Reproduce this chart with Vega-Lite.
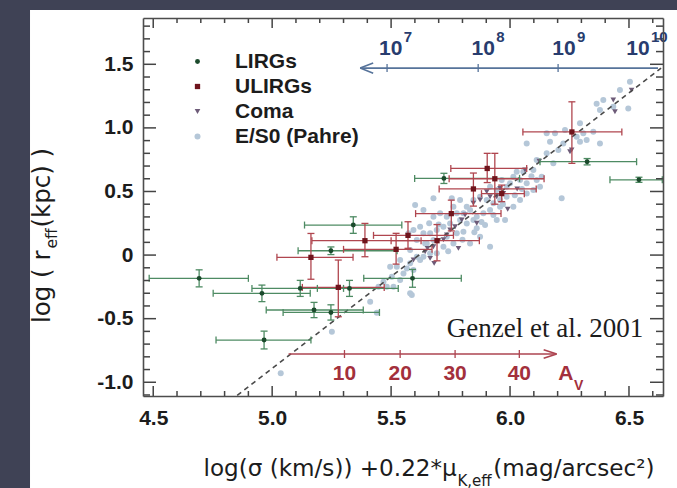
{
"$schema":"https://vega.github.io/schema/vega-lite/v6.json",
"width":520,"height":378,
"autosize":{"type":"none"},
"padding":{"left":143,"top":18,"right":14,"bottom":92},
"background":"#3f4255",
"config":{"view":{"stroke":null},"axis":{"grid":false}},
"datasets":{
"bars":[
{"g":"LIRGs","x":4.693,"y":-0.183,"xlo":4.483,"xhi":4.900,"ylo":-0.25,"yhi":-0.116},
{"g":"LIRGs","x":4.957,"y":-0.301,"xlo":4.752,"xhi":5.160,"ylo":-0.366,"yhi":-0.236},
{"g":"LIRGs","x":5.118,"y":-0.262,"xlo":4.915,"xhi":5.300,"ylo":-0.325,"yhi":-0.199},
{"g":"LIRGs","x":5.325,"y":-0.262,"xlo":5.190,"xhi":5.530,"ylo":-0.325,"yhi":-0.199},
{"g":"LIRGs","x":5.247,"y":0.034,"xlo":5.109,"xhi":5.525,"ylo":0.004,"yhi":0.064},
{"g":"LIRGs","x":5.176,"y":-0.432,"xlo":4.975,"xhi":5.383,"ylo":-0.492,"yhi":-0.372},
{"g":"LIRGs","x":5.247,"y":-0.451,"xlo":5.046,"xhi":5.451,"ylo":-0.511,"yhi":-0.391},
{"g":"LIRGs","x":4.966,"y":-0.668,"xlo":4.764,"xhi":5.163,"ylo":-0.738,"yhi":-0.598},
{"g":"LIRGs","x":5.722,"y":0.603,"xlo":5.599,"xhi":6.040,"ylo":0.563,"yhi":0.643},
{"g":"LIRGs","x":5.590,"y":-0.183,"xlo":5.385,"xhi":5.795,"ylo":-0.253,"yhi":-0.113},
{"g":"LIRGs","x":6.324,"y":0.734,"xlo":6.126,"xhi":6.532,"ylo":0.709,"yhi":0.759},
{"g":"LIRGs","x":6.542,"y":0.592,"xlo":6.420,"xhi":6.640,"ylo":0.572,"yhi":0.612},
{"g":"LIRGs","x":5.341,"y":0.236,"xlo":5.136,"xhi":5.545,"ylo":0.171,"yhi":0.301},
{"g":"ULIRGs","x":5.163,"y":-0.018,"xlo":5.020,"xhi":5.340,"ylo":-0.190,"yhi":0.170},
{"g":"ULIRGs","x":5.278,"y":-0.254,"xlo":5.127,"xhi":5.471,"ylo":-0.485,"yhi":-0.039},
{"g":"ULIRGs","x":5.390,"y":0.113,"xlo":5.167,"xhi":5.626,"ylo":-0.013,"yhi":0.249},
{"g":"ULIRGs","x":5.521,"y":0.045,"xlo":5.300,"xhi":5.672,"ylo":-0.071,"yhi":0.171},
{"g":"ULIRGs","x":5.571,"y":0.155,"xlo":5.426,"xhi":5.762,"ylo":0.053,"yhi":0.262},
{"g":"ULIRGs","x":5.693,"y":0.113,"xlo":5.500,"xhi":5.871,"ylo":-0.045,"yhi":0.240},
{"g":"ULIRGs","x":5.753,"y":0.326,"xlo":5.603,"xhi":5.962,"ylo":0.190,"yhi":0.432},
{"g":"ULIRGs","x":5.846,"y":0.520,"xlo":5.702,"xhi":6.110,"ylo":0.385,"yhi":0.645},
{"g":"ULIRGs","x":5.904,"y":0.681,"xlo":5.751,"xhi":6.070,"ylo":0.570,"yhi":0.800},
{"g":"ULIRGs","x":5.936,"y":0.600,"xlo":5.744,"xhi":6.143,"ylo":0.400,"yhi":0.800},
{"g":"ULIRGs","x":5.965,"y":0.483,"xlo":5.880,"xhi":6.060,"ylo":0.420,"yhi":0.550},
{"g":"ULIRGs","x":6.260,"y":0.968,"xlo":6.054,"xhi":6.470,"ylo":0.721,"yhi":1.205}
],
"pts":[
{"g":"E/S0 (Pahre)","x":5.036,"y":-0.93},{"g":"E/S0 (Pahre)","x":5.251,"y":-0.603},{"g":"E/S0 (Pahre)","x":5.44,"y":-0.453},{"g":"E/S0 (Pahre)","x":5.412,"y":-0.367},
{"g":"E/S0 (Pahre)","x":5.447,"y":-0.249},{"g":"E/S0 (Pahre)","x":5.468,"y":-0.21},{"g":"E/S0 (Pahre)","x":5.503,"y":-0.17},{"g":"E/S0 (Pahre)","x":5.524,"y":-0.092},
{"g":"E/S0 (Pahre)","x":5.566,"y":-0.105},{"g":"E/S0 (Pahre)","x":5.538,"y":-0.039},{"g":"E/S0 (Pahre)","x":5.622,"y":-0.039},{"g":"E/S0 (Pahre)","x":5.58,"y":0.039},
{"g":"E/S0 (Pahre)","x":5.643,"y":0.092},{"g":"E/S0 (Pahre)","x":5.587,"y":-0.314},{"g":"E/S0 (Pahre)","x":5.601,"y":0.393},{"g":"E/S0 (Pahre)","x":5.636,"y":0.354},
{"g":"E/S0 (Pahre)","x":6.294,"y":1.036},{"g":"E/S0 (Pahre)","x":6.378,"y":1.14},{"g":"E/S0 (Pahre)","x":6.434,"y":1.167},{"g":"E/S0 (Pahre)","x":6.497,"y":1.153},
{"g":"E/S0 (Pahre)","x":6.35,"y":0.97},{"g":"E/S0 (Pahre)","x":6.308,"y":0.957},{"g":"E/S0 (Pahre)","x":6.28,"y":0.931},{"g":"E/S0 (Pahre)","x":6.231,"y":0.983},
{"g":"E/S0 (Pahre)","x":6.189,"y":0.957},{"g":"E/S0 (Pahre)","x":6.154,"y":0.957},{"g":"E/S0 (Pahre)","x":6.168,"y":0.891},{"g":"E/S0 (Pahre)","x":6.224,"y":0.878},
{"g":"E/S0 (Pahre)","x":6.294,"y":0.891},{"g":"E/S0 (Pahre)","x":6.322,"y":0.905},{"g":"E/S0 (Pahre)","x":6.378,"y":0.878},{"g":"E/S0 (Pahre)","x":6.203,"y":0.826},
{"g":"E/S0 (Pahre)","x":6.154,"y":0.8},{"g":"E/S0 (Pahre)","x":6.07,"y":0.878},{"g":"E/S0 (Pahre)","x":6.112,"y":0.747},{"g":"E/S0 (Pahre)","x":6.182,"y":0.721},
{"g":"E/S0 (Pahre)","x":6.098,"y":0.669},{"g":"E/S0 (Pahre)","x":6.056,"y":0.656},{"g":"E/S0 (Pahre)","x":6.028,"y":0.656},{"g":"E/S0 (Pahre)","x":6.014,"y":0.616},
{"g":"E/S0 (Pahre)","x":6.0,"y":0.564},{"g":"E/S0 (Pahre)","x":6.042,"y":0.59},{"g":"E/S0 (Pahre)","x":6.07,"y":0.564},{"g":"E/S0 (Pahre)","x":6.112,"y":0.59},
{"g":"E/S0 (Pahre)","x":6.133,"y":0.616},{"g":"E/S0 (Pahre)","x":5.965,"y":0.59},{"g":"E/S0 (Pahre)","x":5.986,"y":0.538},{"g":"E/S0 (Pahre)","x":5.944,"y":0.511},
{"g":"E/S0 (Pahre)","x":5.916,"y":0.538},{"g":"E/S0 (Pahre)","x":5.874,"y":0.459},{"g":"E/S0 (Pahre)","x":5.902,"y":0.433},{"g":"E/S0 (Pahre)","x":5.93,"y":0.407},
{"g":"E/S0 (Pahre)","x":5.958,"y":0.433},{"g":"E/S0 (Pahre)","x":5.846,"y":0.433},{"g":"E/S0 (Pahre)","x":5.818,"y":0.38},{"g":"E/S0 (Pahre)","x":5.79,"y":0.433},
{"g":"E/S0 (Pahre)","x":5.762,"y":0.38},{"g":"E/S0 (Pahre)","x":5.755,"y":0.446},{"g":"E/S0 (Pahre)","x":5.776,"y":0.328},{"g":"E/S0 (Pahre)","x":5.804,"y":0.328},
{"g":"E/S0 (Pahre)","x":5.832,"y":0.354},{"g":"E/S0 (Pahre)","x":5.86,"y":0.302},{"g":"E/S0 (Pahre)","x":5.888,"y":0.328},{"g":"E/S0 (Pahre)","x":5.916,"y":0.354},
{"g":"E/S0 (Pahre)","x":5.846,"y":0.276},{"g":"E/S0 (Pahre)","x":5.818,"y":0.249},{"g":"E/S0 (Pahre)","x":5.79,"y":0.276},{"g":"E/S0 (Pahre)","x":5.748,"y":0.249},
{"g":"E/S0 (Pahre)","x":5.734,"y":0.302},{"g":"E/S0 (Pahre)","x":5.706,"y":0.328},{"g":"E/S0 (Pahre)","x":5.678,"y":0.302},{"g":"E/S0 (Pahre)","x":5.72,"y":0.223},
{"g":"E/S0 (Pahre)","x":5.692,"y":0.197},{"g":"E/S0 (Pahre)","x":5.664,"y":0.171},{"g":"E/S0 (Pahre)","x":5.636,"y":0.171},{"g":"E/S0 (Pahre)","x":5.608,"y":0.118},
{"g":"E/S0 (Pahre)","x":5.65,"y":0.092},{"g":"E/S0 (Pahre)","x":5.678,"y":0.118},{"g":"E/S0 (Pahre)","x":5.734,"y":0.145},{"g":"E/S0 (Pahre)","x":5.776,"y":0.171},
{"g":"E/S0 (Pahre)","x":5.804,"y":0.184},{"g":"E/S0 (Pahre)","x":5.762,"y":0.092},{"g":"E/S0 (Pahre)","x":5.72,"y":0.066},{"g":"E/S0 (Pahre)","x":5.692,"y":0.014},
{"g":"E/S0 (Pahre)","x":5.664,"y":0.014},{"g":"E/S0 (Pahre)","x":5.636,"y":-0.013},{"g":"E/S0 (Pahre)","x":5.608,"y":-0.013},{"g":"E/S0 (Pahre)","x":5.58,"y":-0.065},
{"g":"E/S0 (Pahre)","x":5.594,"y":-0.118},{"g":"E/S0 (Pahre)","x":5.552,"y":-0.144},{"g":"E/S0 (Pahre)","x":5.538,"y":-0.196},{"g":"E/S0 (Pahre)","x":5.51,"y":-0.249},
{"g":"E/S0 (Pahre)","x":5.482,"y":-0.249},{"g":"E/S0 (Pahre)","x":5.496,"y":-0.091},{"g":"E/S0 (Pahre)","x":5.622,"y":0.223},{"g":"E/S0 (Pahre)","x":5.594,"y":0.197},
{"g":"E/S0 (Pahre)","x":5.573,"y":0.171},{"g":"E/S0 (Pahre)","x":5.678,"y":0.446},{"g":"E/S0 (Pahre)","x":5.916,"y":0.066},{"g":"E/S0 (Pahre)","x":5.832,"y":0.092},
{"g":"E/S0 (Pahre)","x":5.874,"y":0.145},{"g":"E/S0 (Pahre)","x":5.944,"y":0.276},{"g":"E/S0 (Pahre)","x":5.979,"y":0.276},{"g":"E/S0 (Pahre)","x":6.014,"y":0.38},
{"g":"E/S0 (Pahre)","x":6.042,"y":0.433},{"g":"E/S0 (Pahre)","x":6.07,"y":0.485},{"g":"E/S0 (Pahre)","x":6.098,"y":0.511},{"g":"E/S0 (Pahre)","x":6.126,"y":0.538},
{"g":"E/S0 (Pahre)","x":5.986,"y":0.459},{"g":"E/S0 (Pahre)","x":5.958,"y":0.38},{"g":"E/S0 (Pahre)","x":5.93,"y":0.315},{"g":"E/S0 (Pahre)","x":5.895,"y":0.236},
{"g":"E/S0 (Pahre)","x":5.86,"y":0.21},{"g":"E/S0 (Pahre)","x":6.217,"y":0.446},{"g":"E/S0 (Pahre)","x":6.504,"y":1.362},{"g":"E/S0 (Pahre)","x":6.462,"y":1.297},
{"g":"E/S0 (Pahre)","x":6.364,"y":1.19},{"g":"E/S0 (Pahre)","x":6.392,"y":1.219},{"g":"E/S0 (Pahre)","x":5.74,"y":0.03},{"g":"E/S0 (Pahre)","x":5.8,"y":0.12},
{"g":"E/S0 (Pahre)","x":5.85,"y":0.18},{"g":"E/S0 (Pahre)","x":5.88,"y":0.26},{"g":"E/S0 (Pahre)","x":5.97,"y":0.4},{"g":"E/S0 (Pahre)","x":6.02,"y":0.47},
{"g":"E/S0 (Pahre)","x":6.05,"y":0.52},{"g":"E/S0 (Pahre)","x":6.09,"y":0.62},{"g":"E/S0 (Pahre)","x":5.7,"y":0.24},{"g":"E/S0 (Pahre)","x":5.66,"y":0.25},
{"g":"E/S0 (Pahre)","x":5.58,"y":-0.301},
{"g":"Coma","x":6.063,"y":0.669},{"g":"Coma","x":6.123,"y":0.739},{"g":"Coma","x":6.441,"y":1.127},{"g":"Coma","x":6.259,"y":0.826},
{"g":"Coma","x":5.902,"y":0.498},{"g":"Coma","x":5.916,"y":0.459},{"g":"Coma","x":5.944,"y":0.459},{"g":"Coma","x":5.972,"y":0.485},
{"g":"Coma","x":5.958,"y":0.524},{"g":"Coma","x":5.797,"y":0.276},{"g":"Coma","x":5.769,"y":0.223},{"g":"Coma","x":5.748,"y":0.197},
{"g":"Coma","x":5.734,"y":0.158},{"g":"Coma","x":5.678,"y":0.066},{"g":"Coma","x":5.664,"y":-0.026},{"g":"Coma","x":5.643,"y":0.026},
{"g":"Coma","x":5.846,"y":0.407},{"g":"Coma","x":5.874,"y":0.433},{"g":"Coma","x":5.811,"y":0.315},{"g":"Coma","x":5.594,"y":-0.039},
{"g":"Coma","x":6.511,"y":1.297},{"g":"Coma","x":6.434,"y":1.219},{"g":"Coma","x":6.252,"y":0.812},{"g":"Coma","x":5.783,"y":0.053},
{"g":"Coma","x":5.653,"y":0.053},{"g":"Coma","x":5.681,"y":-0.065},{"g":"Coma","x":5.99,"y":0.36},{"g":"Coma","x":5.86,"y":0.25},
{"g":"Coma","x":5.72,"y":0.12},{"g":"Coma","x":6.03,"y":0.52}
],
"fit":[{"x":4.853,"y":-1.104},{"x":6.635,"y":1.47}],
"arrows":[{"name":"mass","x1":5.37,"x2":6.622,"y":1.47},{"name":"av","x1":5.069,"x2":6.196,"y":-0.778}],
"scales":[
{"s":"mass","x":5.483,"y":1.47},{"s":"mass","x":5.866,"y":1.47},{"s":"mass","x":6.202,"y":1.47},
{"s":"av","x":5.304,"y":-0.778,"lab":"10"},{"s":"av","x":5.538,"y":-0.778,"lab":"20"},{"s":"av","x":5.769,"y":-0.778,"lab":"30"},{"s":"av","x":6.039,"y":-0.778,"lab":"40"}
],
"mass":[{"lx":5.498,"e":"7"},{"lx":5.887,"e":"8"},{"lx":6.227,"e":"9"},{"lx":6.538,"e":"10"}],
"notes":[{"t":"Genzel et al. 2001","x":5.734,"y":-0.645},{"t":"A","x":6.235,"y":-0.983},{"t":"V","x":6.288,"y":-1.061}],
"fx":[
{"v":4.5,"e":-1.108,"m":1},{"v":5.0,"e":-1.108,"m":1},{"v":5.5,"e":-1.108,"m":1},{"v":6.0,"e":-1.108,"m":1},{"v":6.5,"e":-1.108,"m":1},
{"v":4.6,"e":-1.108,"m":0},{"v":4.7,"e":-1.108,"m":0},{"v":4.8,"e":-1.108,"m":0},{"v":4.9,"e":-1.108,"m":0},{"v":5.1,"e":-1.108,"m":0},{"v":5.2,"e":-1.108,"m":0},
{"v":5.3,"e":-1.108,"m":0},{"v":5.4,"e":-1.108,"m":0},{"v":5.6,"e":-1.108,"m":0},{"v":5.7,"e":-1.108,"m":0},{"v":5.8,"e":-1.108,"m":0},{"v":5.9,"e":-1.108,"m":0},
{"v":6.1,"e":-1.108,"m":0},{"v":6.2,"e":-1.108,"m":0},{"v":6.3,"e":-1.108,"m":0},{"v":6.4,"e":-1.108,"m":0},{"v":6.6,"e":-1.108,"m":0},
{"v":4.5,"e":1.864,"m":1},{"v":5.0,"e":1.864,"m":1},{"v":5.5,"e":1.864,"m":1},{"v":6.0,"e":1.864,"m":1},{"v":6.5,"e":1.864,"m":1},
{"v":4.6,"e":1.864,"m":0},{"v":4.7,"e":1.864,"m":0},{"v":4.8,"e":1.864,"m":0},{"v":4.9,"e":1.864,"m":0},{"v":5.1,"e":1.864,"m":0},{"v":5.2,"e":1.864,"m":0},
{"v":5.3,"e":1.864,"m":0},{"v":5.4,"e":1.864,"m":0},{"v":5.6,"e":1.864,"m":0},{"v":5.7,"e":1.864,"m":0},{"v":5.8,"e":1.864,"m":0},{"v":5.9,"e":1.864,"m":0},
{"v":6.1,"e":1.864,"m":0},{"v":6.2,"e":1.864,"m":0},{"v":6.3,"e":1.864,"m":0},{"v":6.4,"e":1.864,"m":0},{"v":6.6,"e":1.864,"m":0}
],
"fy":[
{"v":-1.0,"e":4.457,"m":1},{"v":-0.5,"e":4.457,"m":1},{"v":0,"e":4.457,"m":1},{"v":0.5,"e":4.457,"m":1},{"v":1.0,"e":4.457,"m":1},{"v":1.5,"e":4.457,"m":1},
{"v":-1.1,"e":4.457,"m":0},{"v":-0.9,"e":4.457,"m":0},{"v":-0.8,"e":4.457,"m":0},{"v":-0.7,"e":4.457,"m":0},{"v":-0.6,"e":4.457,"m":0},{"v":-0.4,"e":4.457,"m":0},
{"v":-0.3,"e":4.457,"m":0},{"v":-0.2,"e":4.457,"m":0},{"v":-0.1,"e":4.457,"m":0},{"v":0.1,"e":4.457,"m":0},{"v":0.2,"e":4.457,"m":0},{"v":0.3,"e":4.457,"m":0},
{"v":0.4,"e":4.457,"m":0},{"v":0.6,"e":4.457,"m":0},{"v":0.7,"e":4.457,"m":0},{"v":0.8,"e":4.457,"m":0},{"v":0.9,"e":4.457,"m":0},{"v":1.1,"e":4.457,"m":0},
{"v":1.2,"e":4.457,"m":0},{"v":1.3,"e":4.457,"m":0},{"v":1.4,"e":4.457,"m":0},{"v":1.6,"e":4.457,"m":0},{"v":1.7,"e":4.457,"m":0},{"v":1.8,"e":4.457,"m":0},
{"v":-1.0,"e":6.643,"m":1},{"v":-0.5,"e":6.643,"m":1},{"v":0,"e":6.643,"m":1},{"v":0.5,"e":6.643,"m":1},{"v":1.0,"e":6.643,"m":1},{"v":1.5,"e":6.643,"m":1},
{"v":-1.1,"e":6.643,"m":0},{"v":-0.9,"e":6.643,"m":0},{"v":-0.8,"e":6.643,"m":0},{"v":-0.7,"e":6.643,"m":0},{"v":-0.6,"e":6.643,"m":0},{"v":-0.4,"e":6.643,"m":0},
{"v":-0.3,"e":6.643,"m":0},{"v":-0.2,"e":6.643,"m":0},{"v":-0.1,"e":6.643,"m":0},{"v":0.1,"e":6.643,"m":0},{"v":0.2,"e":6.643,"m":0},{"v":0.3,"e":6.643,"m":0},
{"v":0.4,"e":6.643,"m":0},{"v":0.6,"e":6.643,"m":0},{"v":0.7,"e":6.643,"m":0},{"v":0.8,"e":6.643,"m":0},{"v":0.9,"e":6.643,"m":0},{"v":1.1,"e":6.643,"m":0},
{"v":1.2,"e":6.643,"m":0},{"v":1.3,"e":6.643,"m":0},{"v":1.4,"e":6.643,"m":0},{"v":1.6,"e":6.643,"m":0},{"v":1.7,"e":6.643,"m":0},{"v":1.8,"e":6.643,"m":0}
]
},
"resolve":{"axis":{"x":"independent","y":"independent"}},
"layer":[
{"data":{"values":[{}]},"mark":{"type":"rect","color":"#ffffff","clip":false},
 "encoding":{
  "x":{"datum":3.982,"type":"quantitative","scale":{"domain":[4.457,6.643],"nice":false,"zero":false},
   "axis":{"orient":"bottom","values":[4.5,5,5.5,6,6.5],"format":".1f","ticks":false,"domain":true,"domainColor":"#4d4d4d","domainWidth":1.6,"labelFont":"Liberation Sans","labelFontWeight":"bold","labelFontSize":21,"labelColor":"#1c1c1c","labelPadding":11,"labelFlush":false,"labelOverlap":false,"labelBound":false,"zindex":1,
   "title":"log(σ (km/s)) +0.22*μ","titleFont":"DejaVu Sans","titleFontWeight":"normal","titleFontSize":23.1,"titleColor":"#1c1c1c","titleX":60,"titleY":79,"titleAlign":"left","titleBaseline":"alphabetic","titleAngle":0}},
  "x2":{"datum":8},
  "y":{"datum":-5,"type":"quantitative","scale":{"domain":[-1.108,1.864],"nice":false,"zero":false},
   "axis":{"orient":"left","values":[-1,-0.5,0,0.5,1,1.5],"labelExpr":"datum.value == 0 ? '0' : (datum.value < 0 ? '-' : '') + format(abs(datum.value), '.1f')","ticks":false,"domain":true,"domainColor":"#4d4d4d","domainWidth":1.6,"labelFont":"Liberation Sans","labelFontWeight":"bold","labelFontSize":21,"labelColor":"#1c1c1c","labelPadding":10,"labelFlush":false,"labelOverlap":false,"labelBound":false,"zindex":1,
   "title":"log ( r","titleFont":"DejaVu Sans","titleFontWeight":"normal","titleFontSize":24.5,"titleColor":"#1c1c1c","titleX":-101,"titleY":232,"titleAlign":"right","titleBaseline":"middle","titleAngle":270}},
  "y2":{"datum":1.926}}},
{"data":{"name":"pts"},"mark":{"type":"point","filled":true,"opacity":1,"strokeWidth":0},
 "encoding":{
  "x":{"field":"x","type":"quantitative","scale":{"domain":[4.457,6.643],"nice":false,"zero":false},
   "axis":{"orient":"bottom","labels":false,"domain":false,"ticks":false,"zindex":1,
   "title":"K,eff","titleFont":"DejaVu Sans","titleFontWeight":"normal","titleFontSize":15,"titleColor":"#1c1c1c","titleX":314,"titleY":89,"titleAlign":"left","titleBaseline":"alphabetic","titleAngle":0}},
  "y":{"field":"y","type":"quantitative","scale":{"domain":[-1.108,1.864],"nice":false,"zero":false},
   "axis":{"orient":"left","labels":false,"domain":false,"ticks":false,"zindex":1,
   "title":"eff","titleFont":"DejaVu Sans","titleFontWeight":"normal","titleFontSize":15.5,"titleColor":"#1c1c1c","titleX":-92,"titleY":230,"titleAlign":"left","titleBaseline":"middle","titleAngle":270}},
  "color":{"field":"g","type":"nominal","scale":{"domain":["LIRGs","ULIRGs","Coma","E/S0 (Pahre)"],"range":["#1b4a2c","#6f141c","#6d5b78","#b5c7d8"]},
   "legend":{"orient":"none","legendX":44,"legendY":33,"title":null,"padding":0,"labelFont":"Liberation Sans","labelFontWeight":"bold","labelFontSize":21,"labelColor":"#1c1c1c","labelOffset":27,"rowPadding":3,"symbolSize":25,"symbolStrokeWidth":0,"zindex":1}},
  "shape":{"field":"g","type":"nominal","scale":{"domain":["LIRGs","ULIRGs","Coma","E/S0 (Pahre)"],"range":["circle","square","triangle-down","circle"]},
   "legend":{"orient":"none","legendX":44,"legendY":33,"title":null,"padding":0,"labelFont":"Liberation Sans","labelFontWeight":"bold","labelFontSize":21,"labelColor":"#1c1c1c","labelOffset":27,"rowPadding":3,"symbolSize":25,"symbolStrokeWidth":0,"zindex":1}},
  "size":{"field":"g","type":"nominal","scale":{"domain":["LIRGs","ULIRGs","Coma","E/S0 (Pahre)"],"range":[24,36,18,25]},"legend":null}}},
{"data":{"name":"fit"},"mark":{"type":"line","color":"#4a4a4a","strokeDash":[5,4],"strokeWidth":1.6},
 "encoding":{
  "x":{"field":"x","type":"quantitative","scale":{"domain":[4.457,6.643],"nice":false,"zero":false},
   "axis":{"orient":"bottom","labels":false,"domain":false,"ticks":false,"zindex":1,
   "title":"(mag/arcsec²)","titleFont":"DejaVu Sans","titleFontWeight":"normal","titleFontSize":23.1,"titleColor":"#1c1c1c","titleX":511,"titleY":79,"titleAlign":"right","titleBaseline":"alphabetic","titleAngle":0}},
  "y":{"field":"y","type":"quantitative","scale":{"domain":[-1.108,1.864],"nice":false,"zero":false},
   "axis":{"orient":"left","labels":false,"domain":false,"ticks":false,"zindex":1,
   "title":"(kpc) )","titleFont":"DejaVu Sans","titleFontWeight":"normal","titleFontSize":24.5,"titleColor":"#1c1c1c","titleX":-101,"titleY":209,"titleAlign":"left","titleBaseline":"middle","titleAngle":270}}}},
{"data":{"name":"bars"},"mark":{"type":"rule","strokeWidth":1.3},
 "encoding":{
  "x":{"field":"xlo","type":"quantitative","scale":{"domain":[4.457,6.643],"nice":false,"zero":false},
   "axis":{"orient":"top","labels":false,"ticks":false,"domain":true,"domainColor":"#4d4d4d","domainWidth":1.6,"zindex":1,"title":null}},
  "x2":{"field":"xhi"},
  "y":{"field":"y","type":"quantitative","scale":{"domain":[-1.108,1.864],"nice":false,"zero":false},
   "axis":{"orient":"right","labels":false,"ticks":false,"domain":true,"domainColor":"#4d4d4d","domainWidth":1.6,"zindex":1,"title":null}},
  "color":{"condition":{"test":"datum.g === 'LIRGs'","value":"#4e8b63"},"value":"#b0464f"}}},
{"data":{"name":"bars"},"mark":{"type":"rule","strokeWidth":1.3},
 "encoding":{
  "x":{"field":"x","type":"quantitative","axis":null},
  "y":{"field":"ylo","type":"quantitative","axis":null},
  "y2":{"field":"yhi"},
  "color":{"condition":{"test":"datum.g === 'LIRGs'","value":"#4e8b63"},"value":"#b0464f"}}},
{"data":{"name":"bars"},"mark":{"type":"tick","orient":"vertical","size":7,"thickness":1.3,"opacity":1},
 "encoding":{"x":{"field":"xlo","type":"quantitative","axis":null},"y":{"field":"y","type":"quantitative","axis":null},
  "color":{"condition":{"test":"datum.g === 'LIRGs'","value":"#4e8b63"},"value":"#b0464f"}}},
{"data":{"name":"bars"},"mark":{"type":"tick","orient":"vertical","size":7,"thickness":1.3,"opacity":1},
 "encoding":{"x":{"field":"xhi","type":"quantitative","axis":null},"y":{"field":"y","type":"quantitative","axis":null},
  "color":{"condition":{"test":"datum.g === 'LIRGs'","value":"#4e8b63"},"value":"#b0464f"}}},
{"data":{"name":"bars"},"mark":{"type":"tick","orient":"horizontal","size":7,"thickness":1.3,"opacity":1},
 "encoding":{"x":{"field":"x","type":"quantitative","axis":null},"y":{"field":"ylo","type":"quantitative","axis":null},
  "color":{"condition":{"test":"datum.g === 'LIRGs'","value":"#4e8b63"},"value":"#b0464f"}}},
{"data":{"name":"bars"},"mark":{"type":"tick","orient":"horizontal","size":7,"thickness":1.3,"opacity":1},
 "encoding":{"x":{"field":"x","type":"quantitative","axis":null},"y":{"field":"yhi","type":"quantitative","axis":null},
  "color":{"condition":{"test":"datum.g === 'LIRGs'","value":"#4e8b63"},"value":"#b0464f"}}},
{"data":{"name":"bars"},"mark":{"type":"point","filled":true,"opacity":1,"strokeWidth":0},
 "encoding":{
  "x":{"field":"x","type":"quantitative","axis":null},
  "y":{"field":"y","type":"quantitative","axis":null},
  "color":{"field":"g","type":"nominal","scale":{"domain":["LIRGs","ULIRGs","Coma","E/S0 (Pahre)"],"range":["#1b4a2c","#6f141c","#6d5b78","#b5c7d8"]},
   "legend":{"orient":"none","legendX":44,"legendY":33,"title":null,"padding":0,"labelFont":"Liberation Sans","labelFontWeight":"bold","labelFontSize":21,"labelColor":"#1c1c1c","labelOffset":27,"rowPadding":3,"symbolSize":25,"symbolStrokeWidth":0,"zindex":1}},
  "shape":{"field":"g","type":"nominal","scale":{"domain":["LIRGs","ULIRGs","Coma","E/S0 (Pahre)"],"range":["circle","square","triangle-down","circle"]},
   "legend":{"orient":"none","legendX":44,"legendY":33,"title":null,"padding":0,"labelFont":"Liberation Sans","labelFontWeight":"bold","labelFontSize":21,"labelColor":"#1c1c1c","labelOffset":27,"rowPadding":3,"symbolSize":25,"symbolStrokeWidth":0,"zindex":1}},
  "size":{"field":"g","type":"nominal","scale":{"domain":["LIRGs","ULIRGs","Coma","E/S0 (Pahre)"],"range":[24,36,18,25]},"legend":null}}},
{"data":{"name":"fx"},"transform":[{"filter":"datum.e < 0 && datum.m == 1"}],"mark":{"type":"tick","orient":"vertical","size":10,"thickness":1.5,"opacity":1,"yOffset":-5},
 "encoding":{"x":{"field":"v","type":"quantitative","axis":null},"y":{"field":"e","type":"quantitative","axis":null},"color":{"value":"#444444"}}},
{"data":{"name":"fx"},"transform":[{"filter":"datum.e < 0 && datum.m == 0"}],"mark":{"type":"tick","orient":"vertical","size":5,"thickness":1.5,"opacity":1,"yOffset":-2.5},
 "encoding":{"x":{"field":"v","type":"quantitative","axis":null},"y":{"field":"e","type":"quantitative","axis":null},"color":{"value":"#444444"}}},
{"data":{"name":"fx"},"transform":[{"filter":"datum.e > 0 && datum.m == 1"}],"mark":{"type":"tick","orient":"vertical","size":10,"thickness":1.5,"opacity":1,"yOffset":5},
 "encoding":{"x":{"field":"v","type":"quantitative","axis":null},"y":{"field":"e","type":"quantitative","axis":null},"color":{"value":"#444444"}}},
{"data":{"name":"fx"},"transform":[{"filter":"datum.e > 0 && datum.m == 0"}],"mark":{"type":"tick","orient":"vertical","size":5,"thickness":1.5,"opacity":1,"yOffset":2.5},
 "encoding":{"x":{"field":"v","type":"quantitative","axis":null},"y":{"field":"e","type":"quantitative","axis":null},"color":{"value":"#444444"}}},
{"data":{"name":"fy"},"transform":[{"filter":"datum.e < 5 && datum.m == 1"}],"mark":{"type":"tick","orient":"horizontal","size":13,"thickness":1.5,"opacity":1,"xOffset":6.5},
 "encoding":{"x":{"field":"e","type":"quantitative","axis":null},"y":{"field":"v","type":"quantitative","axis":null},"color":{"value":"#444444"}}},
{"data":{"name":"fy"},"transform":[{"filter":"datum.e < 5 && datum.m == 0"}],"mark":{"type":"tick","orient":"horizontal","size":7,"thickness":1.5,"opacity":1,"xOffset":3.5},
 "encoding":{"x":{"field":"e","type":"quantitative","axis":null},"y":{"field":"v","type":"quantitative","axis":null},"color":{"value":"#444444"}}},
{"data":{"name":"fy"},"transform":[{"filter":"datum.e > 5 && datum.m == 1"}],"mark":{"type":"tick","orient":"horizontal","size":13,"thickness":1.5,"opacity":1,"xOffset":-6.5},
 "encoding":{"x":{"field":"e","type":"quantitative","axis":null},"y":{"field":"v","type":"quantitative","axis":null},"color":{"value":"#444444"}}},
{"data":{"name":"fy"},"transform":[{"filter":"datum.e > 5 && datum.m == 0"}],"mark":{"type":"tick","orient":"horizontal","size":7,"thickness":1.5,"opacity":1,"xOffset":-3.5},
 "encoding":{"x":{"field":"e","type":"quantitative","axis":null},"y":{"field":"v","type":"quantitative","axis":null},"color":{"value":"#444444"}}},
{"data":{"name":"arrows"},"mark":{"type":"rule","strokeWidth":1.6,"clip":false},
 "encoding":{"x":{"field":"x1","type":"quantitative","axis":null},"x2":{"field":"x2"},"y":{"field":"y","type":"quantitative","axis":null},
  "color":{"condition":{"test":"datum.name === 'mass'","value":"#56739a"},"value":"#ad4450"}}},
{"data":{"name":"scales"},"mark":{"type":"tick","orient":"vertical","size":8,"thickness":1.3,"opacity":1},
 "encoding":{"x":{"field":"x","type":"quantitative","axis":null},"y":{"field":"y","type":"quantitative","axis":null},
  "color":{"condition":{"test":"datum.s === 'mass'","value":"#56739a"},"value":"#ad4450"}}},
{"data":{"name":"arrows"},"transform":[{"filter":"datum.name === 'mass'"}],
 "mark":{"type":"point","shape":"M0,0L2,-0.8M0,0L2,0.8","size":169,"filled":false,"stroke":"#56739a","strokeWidth":1.6,"opacity":1,"clip":false},
 "encoding":{"x":{"field":"x1","type":"quantitative","axis":null},"y":{"field":"y","type":"quantitative","axis":null}}},
{"data":{"name":"arrows"},"transform":[{"filter":"datum.name === 'av'"}],
 "mark":{"type":"point","shape":"M0,0L-2,-0.65M0,0L-2,0.65","size":169,"filled":false,"stroke":"#ad4450","strokeWidth":1.6,"opacity":1,"clip":false},
 "encoding":{"x":{"field":"x2","type":"quantitative","axis":null},"y":{"field":"y","type":"quantitative","axis":null}}},
{"data":{"name":"mass"},"mark":{"type":"text","text":"10","font":"Liberation Sans","fontWeight":"bold","fontSize":21,"color":"#283c6e","align":"center","baseline":"alphabetic","clip":false},
 "encoding":{"x":{"field":"lx","type":"quantitative","axis":null},"y":{"datum":1.572,"type":"quantitative","axis":null}}},
{"data":{"name":"mass"},"mark":{"type":"text","font":"Liberation Sans","fontWeight":"bold","fontSize":15,"color":"#283c6e","align":"left","baseline":"alphabetic","dx":13,"dy":-13,"clip":false},
 "encoding":{"x":{"field":"lx","type":"quantitative","axis":null},"y":{"datum":1.572,"type":"quantitative","axis":null},"text":{"field":"e"}}},
{"data":{"name":"scales"},"transform":[{"filter":"datum.s === 'av'"}],
 "mark":{"type":"text","font":"Liberation Sans","fontWeight":"bold","fontSize":21,"color":"#a3303c","align":"center","baseline":"alphabetic","clip":false},
 "encoding":{"x":{"field":"x","type":"quantitative","axis":null},"y":{"datum":-0.983,"type":"quantitative","axis":null},"text":{"field":"lab"}}},
{"data":{"name":"notes"},"transform":[{"filter":"datum.t === 'A'"}],
 "mark":{"type":"text","font":"Liberation Sans","fontWeight":"bold","fontSize":21,"color":"#a3303c","align":"center","baseline":"alphabetic","clip":false},
 "encoding":{"x":{"field":"x","type":"quantitative","axis":null},"y":{"field":"y","type":"quantitative","axis":null},"text":{"field":"t"}}},
{"data":{"name":"notes"},"transform":[{"filter":"datum.t === 'V'"}],
 "mark":{"type":"text","font":"Liberation Sans","fontWeight":"bold","fontSize":14,"color":"#a3303c","align":"center","baseline":"alphabetic","clip":false},
 "encoding":{"x":{"field":"x","type":"quantitative","axis":null},"y":{"field":"y","type":"quantitative","axis":null},"text":{"field":"t"}}},
{"data":{"name":"notes"},"transform":[{"filter":"length(datum.t) > 1"}],
 "mark":{"type":"text","font":"Liberation Serif","fontSize":27,"color":"#1c1c1c","align":"left","baseline":"alphabetic","clip":false},
 "encoding":{"x":{"field":"x","type":"quantitative","axis":null},"y":{"field":"y","type":"quantitative","axis":null},"text":{"field":"t"}}}
]
}
